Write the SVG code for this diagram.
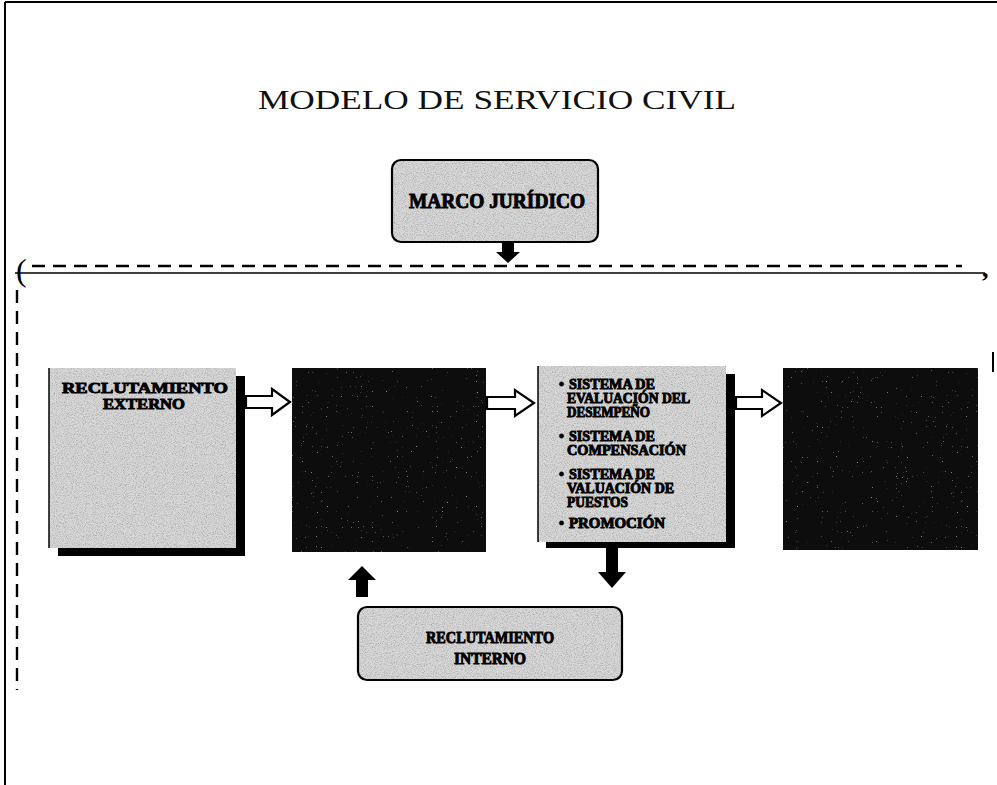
<svg xmlns="http://www.w3.org/2000/svg" width="997" height="785" viewBox="0 0 997 785">
<style>
.title{font-family:"Liberation Serif","Times New Roman",serif;font-size:27px;fill:#111}
.lbl{font-family:"Liberation Serif","Times New Roman",serif;font-weight:bold;fill:#000;stroke:#000;stroke-width:0.9}
.frame{stroke:#000;stroke-width:2;fill:none}
.dash{stroke:#000;stroke-width:2.4;fill:none;stroke-dasharray:13 8}
.hollow{fill:#fff;stroke:#000;stroke-width:2.2;stroke-linejoin:miter}
.solid{fill:#000;stroke:none}
.light{fill:#d8d8d8}
.dark{fill:#080808}
.shadow{fill:#000}
</style>
<defs>
<filter id="grain" x="0" y="0" width="100%" height="100%">
<feTurbulence type="fractalNoise" baseFrequency="0.9" numOctaves="2" seed="7" result="n"/>
<feColorMatrix in="n" type="matrix" values="0 0 0 0 0.4  0 0 0 0 0.4  0 0 0 0 0.4  2.4 0 0 0 -1.0" result="g"/>
<feComposite in="g" in2="SourceGraphic" operator="atop"/>
</filter>
<filter id="grainW" x="0" y="0" width="100%" height="100%">
<feTurbulence type="fractalNoise" baseFrequency="1.2" numOctaves="1" seed="3" result="n"/>
<feColorMatrix in="n" type="matrix" values="0 0 0 0 0.7  0 0 0 0 0.7  0 0 0 0 0.7  4 0 0 0 -2.9" result="g"/>
<feComposite in="g" in2="SourceGraphic" operator="atop"/>
</filter>
</defs>

<g id="frame">
<line class="frame" x1="5" y1="2" x2="997" y2="2"/>
<line class="frame" x1="5" y1="2" x2="5" y2="785"/>
<line class="frame" x1="993" y1="352" x2="993" y2="372"/>
</g>

<g id="title">
<text class="title" x="497" y="109" text-anchor="middle" textLength="478" lengthAdjust="spacingAndGlyphs">MODELO DE SERVICIO CIVIL</text>
</g>

<g id="marco-juridico">
<rect x="392" y="160" width="206" height="82" rx="9" class="light" filter="url(#grain)"/>
<rect x="392" y="160" width="206" height="82" rx="9" fill="none" stroke="#000" stroke-width="2.2"/>
<text class="lbl" x="497" y="208" font-size="20" text-anchor="middle" textLength="176" lengthAdjust="spacingAndGlyphs">MARCO JURÍDICO</text>
</g>

<g id="recl-externo">
<rect x="58" y="376" width="187" height="180" class="shadow"/>
<rect x="49" y="368" width="187" height="180" class="light" filter="url(#grain)"/>
<line x1="49" y1="368" x2="49" y2="548" stroke="#000" stroke-width="1.5"/>
<text class="lbl" x="145" y="393" font-size="15" text-anchor="middle" textLength="166" lengthAdjust="spacingAndGlyphs">RECLUTAMIENTO</text>
<text class="lbl" x="144" y="409" font-size="15" text-anchor="middle" textLength="82" lengthAdjust="spacingAndGlyphs">EXTERNO</text>
</g>

<g id="box-2">
<rect x="292" y="368" width="194" height="184" class="dark" filter="url(#grainW)"/>
</g>

<g id="sistemas">
<rect x="546" y="374" width="189" height="174" class="shadow"/>
<rect x="538" y="366" width="188" height="176" class="light" filter="url(#grain)"/>
<line x1="538" y1="366" x2="538" y2="542" stroke="#000" stroke-width="1.5"/>
<g font-size="14">
<text class="lbl" x="559" y="389">•</text>
<text class="lbl" x="569" y="389" textLength="86" lengthAdjust="spacingAndGlyphs">SISTEMA DE</text>
<text class="lbl" x="567" y="403" textLength="123" lengthAdjust="spacingAndGlyphs">EVALUACIÓN DEL</text>
<text class="lbl" x="567" y="417" textLength="83" lengthAdjust="spacingAndGlyphs">DESEMPEÑO</text>
<text class="lbl" x="559" y="441">•</text>
<text class="lbl" x="569" y="441" textLength="86" lengthAdjust="spacingAndGlyphs">SISTEMA DE</text>
<text class="lbl" x="567" y="455" textLength="119" lengthAdjust="spacingAndGlyphs">COMPENSACIÓN</text>
<text class="lbl" x="559" y="479">•</text>
<text class="lbl" x="569" y="479" textLength="86" lengthAdjust="spacingAndGlyphs">SISTEMA DE</text>
<text class="lbl" x="567" y="493" textLength="107" lengthAdjust="spacingAndGlyphs">VALUACIÓN DE</text>
<text class="lbl" x="567" y="507" textLength="61" lengthAdjust="spacingAndGlyphs">PUESTOS</text>
<text class="lbl" x="559" y="528">•</text>
<text class="lbl" x="569" y="528" textLength="96" lengthAdjust="spacingAndGlyphs">PROMOCIÓN</text>
</g>
</g>

<g id="box-4">
<rect x="783" y="368" width="195" height="182" class="dark" filter="url(#grainW)"/>
</g>

<g id="recl-interno">
<rect x="358" y="607" width="264" height="73" rx="9" class="light" filter="url(#grain)"/>
<rect x="358" y="607" width="264" height="73" rx="9" fill="none" stroke="#000" stroke-width="2.2"/>
<text class="lbl" x="490" y="643" font-size="16" text-anchor="middle" textLength="128" lengthAdjust="spacingAndGlyphs">RECLUTAMIENTO</text>
<text class="lbl" x="490" y="664" font-size="16" text-anchor="middle" textLength="72" lengthAdjust="spacingAndGlyphs">INTERNO</text>
</g>

<g id="connectors">
<text x="16" y="281" font-family="Liberation Serif, serif" font-size="32" fill="#000">(</text>
<text x="982" y="277" font-family="Liberation Serif, serif" font-size="26" font-weight="bold" fill="#000">,</text>
<line class="dash" x1="32" y1="266" x2="962" y2="266"/>
<line x1="15" y1="273" x2="985" y2="273" stroke="#000" stroke-width="1.6"/>
<line class="dash" x1="17" y1="290" x2="17" y2="690" stroke-dasharray="18 12" stroke-width="2"/>
<path class="solid" d="M502 243 H514 V252 H520 L508 263 L496 252 H502 Z"/>
<path class="hollow" d="M246 396 H272 V389 L290 402 L272 415 V408 H246 Z"/>
<path class="hollow" d="M487 397 H515 V390 L534 403 L515 416 V409 H487 Z"/>
<path class="hollow" d="M736 397 H762 V390 L781 403 L762 416 V409 H736 Z"/>
<path class="solid" d="M606 548 H618 V572 H626 L612 588 L598 572 H606 Z"/>
<path class="solid" d="M356 597 H368 V580 H376 L362 566 L348 580 H356 Z"/>
</g>
</svg>
